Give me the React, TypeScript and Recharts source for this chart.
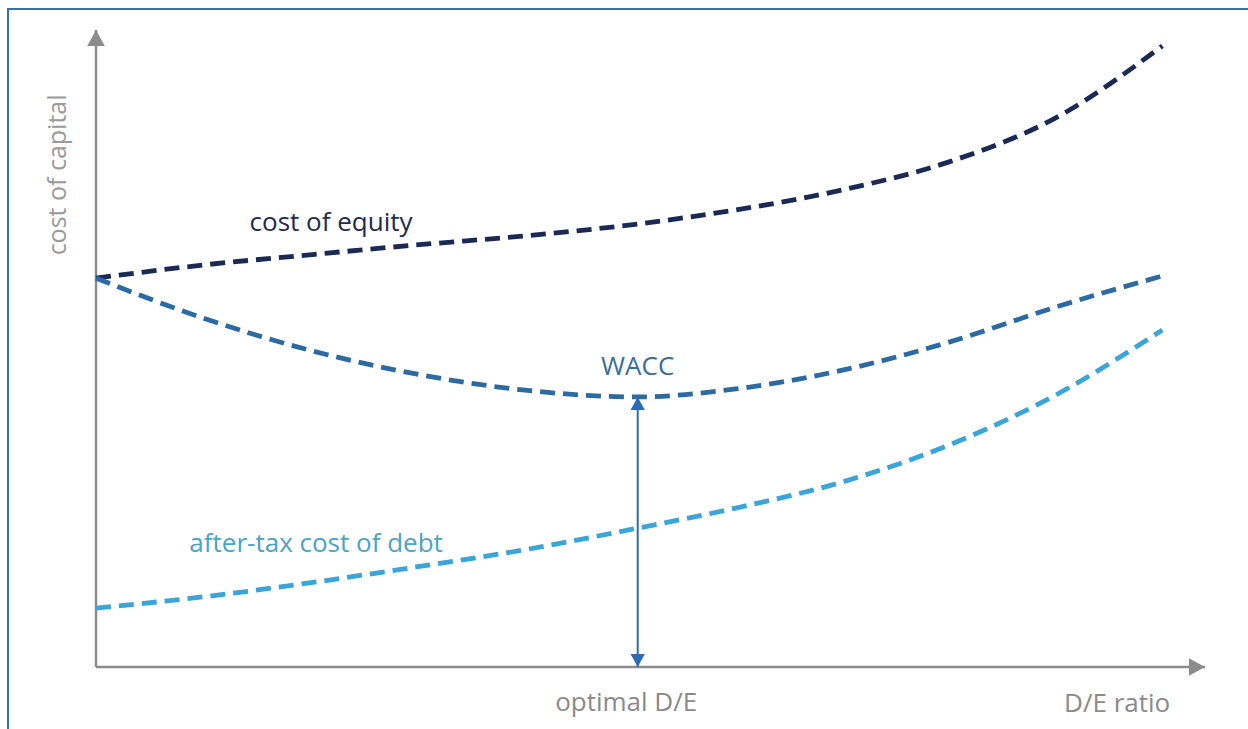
import { Line, LineChart, ReferenceDot, ReferenceLine, XAxis, YAxis } from "recharts";

// D/E ratio positions shared by all curves
const deRatio = [0, 0.25, 0.5, 0.75, 1.0, 1.27, 1.5, 1.75, 2.0, 2.25, 2.5];

// cost of capital, %
const costOfEquity = [12.21, 12.62, 12.94, 13.25, 13.53, 13.91, 14.35, 14.98, 15.86, 17.24, 19.5];
const wacc = [12.21, 10.96, 9.95, 9.2, 8.7, 8.48, 8.73, 9.32, 10.2, 11.3, 12.28];
const afterTaxCostOfDebt = [1.85, 2.2, 2.64, 3.14, 3.67, 4.36, 4.99, 5.81, 6.97, 8.54, 10.58];

const optimalDE = 1.27;
const minWacc = 8.48;

const data = deRatio.map((d, i) => ({
  d,
  equity: costOfEquity[i],
  wacc: wacc[i],
  debt: afterTaxCostOfDebt[i],
}));

const FONT = "'Open Sans', 'Noto Sans', sans-serif";
const AXIS = "#8c8c8c";
const ARROW = "#2b6db2";

const triangle = (dir: "up" | "down" | "right", color: string, size: number) => (props: any) => {
  const { cx, cy } = props;
  if (cx == null || cy == null) return null;
  const h = size;
  const w = size * 0.55;
  let pts = "";
  if (dir === "up") pts = `${cx},${cy} ${cx - w},${cy + h} ${cx + w},${cy + h}`;
  if (dir === "down") pts = `${cx},${cy} ${cx - w},${cy - h} ${cx + w},${cy - h}`;
  if (dir === "right") pts = `${cx},${cy} ${cx - h},${cy - w} ${cx - h},${cy + w}`;
  return <polygon points={pts} fill={color} />;
};

const textLabel = (value: string, color: string, size = 26, angle = 0) => ({
  value,
  position: "center" as const,
  fill: color,
  fontSize: size,
  fontFamily: FONT,
  angle,
});

export default function App() {
  return (
    <div
      style={{
        position: "absolute",
        left: 0,
        top: 0,
        width: 1248,
        height: 729,
        overflow: "hidden",
        background: "#fff",
      }}
    >
      <div
        style={{
          position: "absolute",
          left: 7,
          top: 8,
          width: 1300,
          height: 800,
          borderLeft: "2px solid #3471aa",
          borderTop: "2px solid #3471aa",
        }}
      />
      <LineChart
        width={1248}
        height={729}
        data={data}
        margin={{ top: 30, right: 43, bottom: 62, left: 96 }}
        style={{ position: "absolute", left: 0, top: 0 }}
      >
        <XAxis dataKey="d" type="number" domain={[0, 2.6]} hide />
        <YAxis type="number" domain={[0, 20]} hide />

        {/* axes with arrow heads */}
        <ReferenceLine
          segment={[
            { x: 0, y: 0 },
            { x: 2.6, y: 0 },
          ]}
          stroke={AXIS}
          strokeWidth={2.5}
          ifOverflow="visible"
        />
        <ReferenceLine
          segment={[
            { x: 0, y: 0 },
            { x: 0, y: 20 },
          ]}
          stroke={AXIS}
          strokeWidth={2.5}
          ifOverflow="visible"
        />
        <ReferenceDot x={2.6} y={0} r={8} shape={triangle("right", AXIS, 16)} ifOverflow="visible" />
        <ReferenceDot x={0} y={20} r={8} shape={triangle("up", AXIS, 16)} ifOverflow="visible" />

        <ReferenceLine
          segment={[
            { x: optimalDE, y: 0 },
            { x: optimalDE, y: minWacc },
          ]}
          stroke={ARROW}
          strokeWidth={2}
        />
        <ReferenceDot x={optimalDE} y={minWacc} r={6} shape={triangle("up", ARROW, 13)} />
        <ReferenceDot x={optimalDE} y={0} r={6} shape={triangle("down", ARROW, 13)} />

        <Line
          type="monotone"
          dataKey="equity"
          stroke="#1a2a55"
          strokeWidth={4.8}
          strokeDasharray="15 8"
          dot={false}
          isAnimationActive={false}
        />
        <Line
          type="monotone"
          dataKey="wacc"
          stroke="#2c6aa3"
          strokeWidth={4.8}
          strokeDasharray="15 8"
          dot={false}
          isAnimationActive={false}
        />
        <Line
          type="monotone"
          dataKey="debt"
          stroke="#3ba5d9"
          strokeWidth={4.8}
          strokeDasharray="15 8"
          dot={false}
          isAnimationActive={false}
        />

        <ReferenceDot x={0.551} y={13.97} r={0} fill="none" stroke="none" label={textLabel("cost of equity", "#1d2b4f")} />
        <ReferenceDot x={optimalDE} y={9.45} r={0} fill="none" stroke="none" label={textLabel("WACC", "#3a6e99")} />
        <ReferenceDot x={0.516} y={3.89} r={0} fill="none" stroke="none" label={textLabel("after-tax cost of debt", "#4aa3c8")} />
        <ReferenceDot
          x={-0.091}
          y={15.45}
          r={0}
          fill="none"
          stroke="none"
          ifOverflow="visible"
          label={textLabel("cost of capital", "#9a9a9a", 25, -90)}
        />
        <ReferenceDot x={1.243} y={-1.1} r={0} fill="none" stroke="none" ifOverflow="visible" label={textLabel("optimal D/E", "#8a8a8a")} />
        <ReferenceDot x={2.394} y={-1.13} r={0} fill="none" stroke="none" ifOverflow="visible" label={textLabel("D/E ratio", "#8a8a8a")} />
      </LineChart>
    </div>
  );
}
